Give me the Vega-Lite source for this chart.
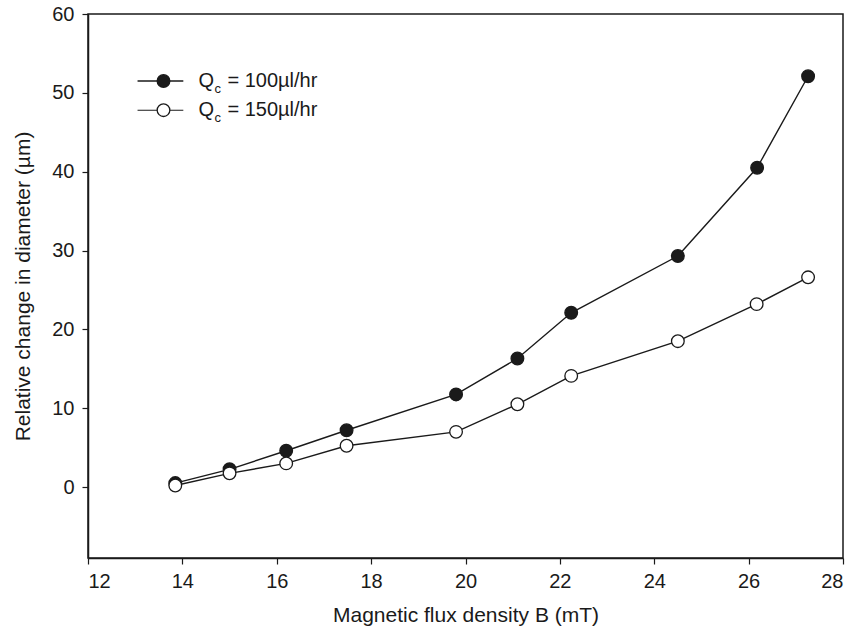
{
  "$schema": "https://vega.github.io/schema/vega-lite/v6.json",
  "width": 755,
  "height": 544,
  "autosize": {"type": "none"},
  "padding": {"left": 88, "top": 14, "right": 15, "bottom": 75},
  "background": "white",
  "config": {
    "view": {"stroke": "#1a1a1a", "strokeWidth": 1.5},
    "axis": {
      "grid": false,
      "domainColor": "#1a1a1a",
      "domainWidth": 1.5,
      "tickColor": "#1a1a1a",
      "tickWidth": 1.2,
      "tickSize": 6,
      "labelFont": "Liberation Sans",
      "labelFontSize": 20,
      "labelColor": "#1a1a1a",
      "titleFont": "Liberation Sans",
      "titleFontSize": 21,
      "titleFontWeight": "normal",
      "titleColor": "#1a1a1a"
    },
    "text": {"font": "Liberation Sans", "fill": "#1a1a1a", "fontWeight": "normal"}
  },
  "data": {
    "values": [
      {"Q": "100", "B": 13.85, "d": 0.5},
      {"Q": "100", "B": 15.0, "d": 2.25},
      {"Q": "100", "B": 16.2, "d": 4.6},
      {"Q": "100", "B": 17.48, "d": 7.2},
      {"Q": "100", "B": 19.8, "d": 11.75},
      {"Q": "100", "B": 21.1, "d": 16.3},
      {"Q": "100", "B": 22.24, "d": 22.1},
      {"Q": "100", "B": 24.5, "d": 29.3},
      {"Q": "100", "B": 26.18, "d": 40.5},
      {"Q": "100", "B": 27.26, "d": 52.1},
      {"Q": "150", "B": 13.85, "d": 0.2},
      {"Q": "150", "B": 15.0, "d": 1.74},
      {"Q": "150", "B": 16.2, "d": 3.0},
      {"Q": "150", "B": 17.48, "d": 5.24},
      {"Q": "150", "B": 19.8, "d": 7.0},
      {"Q": "150", "B": 21.1, "d": 10.5},
      {"Q": "150", "B": 22.24, "d": 14.1},
      {"Q": "150", "B": 24.5, "d": 18.5},
      {"Q": "150", "B": 26.17, "d": 23.2},
      {"Q": "150", "B": 27.26, "d": 26.6}
    ]
  },
  "layer": [
    {
      "mark": {"type": "line", "color": "#1a1a1a", "strokeWidth": 1.4},
      "encoding": {
        "x": {
          "field": "B", "type": "quantitative",
          "scale": {"domain": [12, 28], "nice": false, "zero": false},
          "axis": {"values": [12, 14, 16, 18, 20, 22, 24, 26, 28], "title": "Magnetic flux density B (mT)", "titlePadding": 13, "labelPadding": 7}
        },
        "y": {
          "field": "d", "type": "quantitative",
          "scale": {"domain": [-9, 60], "nice": false, "zero": false},
          "axis": {"values": [0, 10, 20, 30, 40, 50, 60], "title": "Relative change in diameter (µm)", "titlePadding": 18, "labelPadding": 8}
        },
        "detail": {"field": "Q", "type": "nominal"}
      }
    },
    {
      "mark": {"type": "point", "filled": false, "size": 160, "stroke": "#1a1a1a", "strokeWidth": 1.3, "opacity": 1},
      "encoding": {
        "x": {"field": "B", "type": "quantitative"},
        "y": {"field": "d", "type": "quantitative"},
        "fill": {"field": "Q", "type": "nominal", "scale": {"domain": ["100", "150"], "range": ["#1a1a1a", "#ffffff"]}, "legend": null}
      }
    },
    {
      "data": {"values": [{}]},
      "mark": {"type": "rule", "color": "#1a1a1a", "strokeWidth": 1.3},
      "encoding": {"x": {"datum": 13.05}, "x2": {"datum": 14.02}, "y": {"datum": 51.5}}
    },
    {
      "data": {"values": [{}]},
      "mark": {"type": "point", "filled": true, "size": 160, "fill": "#1a1a1a", "stroke": "#1a1a1a", "strokeWidth": 1.3, "opacity": 1},
      "encoding": {"x": {"datum": 13.6}, "y": {"datum": 51.5}}
    },
    {
      "data": {"values": [{}]},
      "mark": {"type": "text", "align": "left", "baseline": "middle", "fontSize": 20},
      "encoding": {"x": {"datum": 14.34}, "y": {"datum": 51.5}, "text": {"value": "Q"}}
    },
    {
      "data": {"values": [{}]},
      "mark": {"type": "text", "align": "left", "baseline": "middle", "fontSize": 13, "dy": 8},
      "encoding": {"x": {"datum": 14.68}, "y": {"datum": 51.5}, "text": {"value": "c"}}
    },
    {
      "data": {"values": [{}]},
      "mark": {"type": "text", "align": "left", "baseline": "middle", "fontSize": 20},
      "encoding": {"x": {"datum": 14.955}, "y": {"datum": 51.5}, "text": {"value": "= 100µl/hr"}}
    },
    {
      "data": {"values": [{}]},
      "mark": {"type": "rule", "color": "#1a1a1a", "strokeWidth": 1.1},
      "encoding": {"x": {"datum": 13.05}, "x2": {"datum": 14.02}, "y": {"datum": 47.8}}
    },
    {
      "data": {"values": [{}]},
      "mark": {"type": "point", "filled": true, "size": 160, "fill": "#ffffff", "stroke": "#1a1a1a", "strokeWidth": 1.3, "opacity": 1},
      "encoding": {"x": {"datum": 13.6}, "y": {"datum": 47.8}}
    },
    {
      "data": {"values": [{}]},
      "mark": {"type": "text", "align": "left", "baseline": "middle", "fontSize": 20},
      "encoding": {"x": {"datum": 14.34}, "y": {"datum": 47.8}, "text": {"value": "Q"}}
    },
    {
      "data": {"values": [{}]},
      "mark": {"type": "text", "align": "left", "baseline": "middle", "fontSize": 13, "dy": 8},
      "encoding": {"x": {"datum": 14.68}, "y": {"datum": 47.8}, "text": {"value": "c"}}
    },
    {
      "data": {"values": [{}]},
      "mark": {"type": "text", "align": "left", "baseline": "middle", "fontSize": 20},
      "encoding": {"x": {"datum": 14.955}, "y": {"datum": 47.8}, "text": {"value": "= 150µl/hr"}}
    }
  ]
}
